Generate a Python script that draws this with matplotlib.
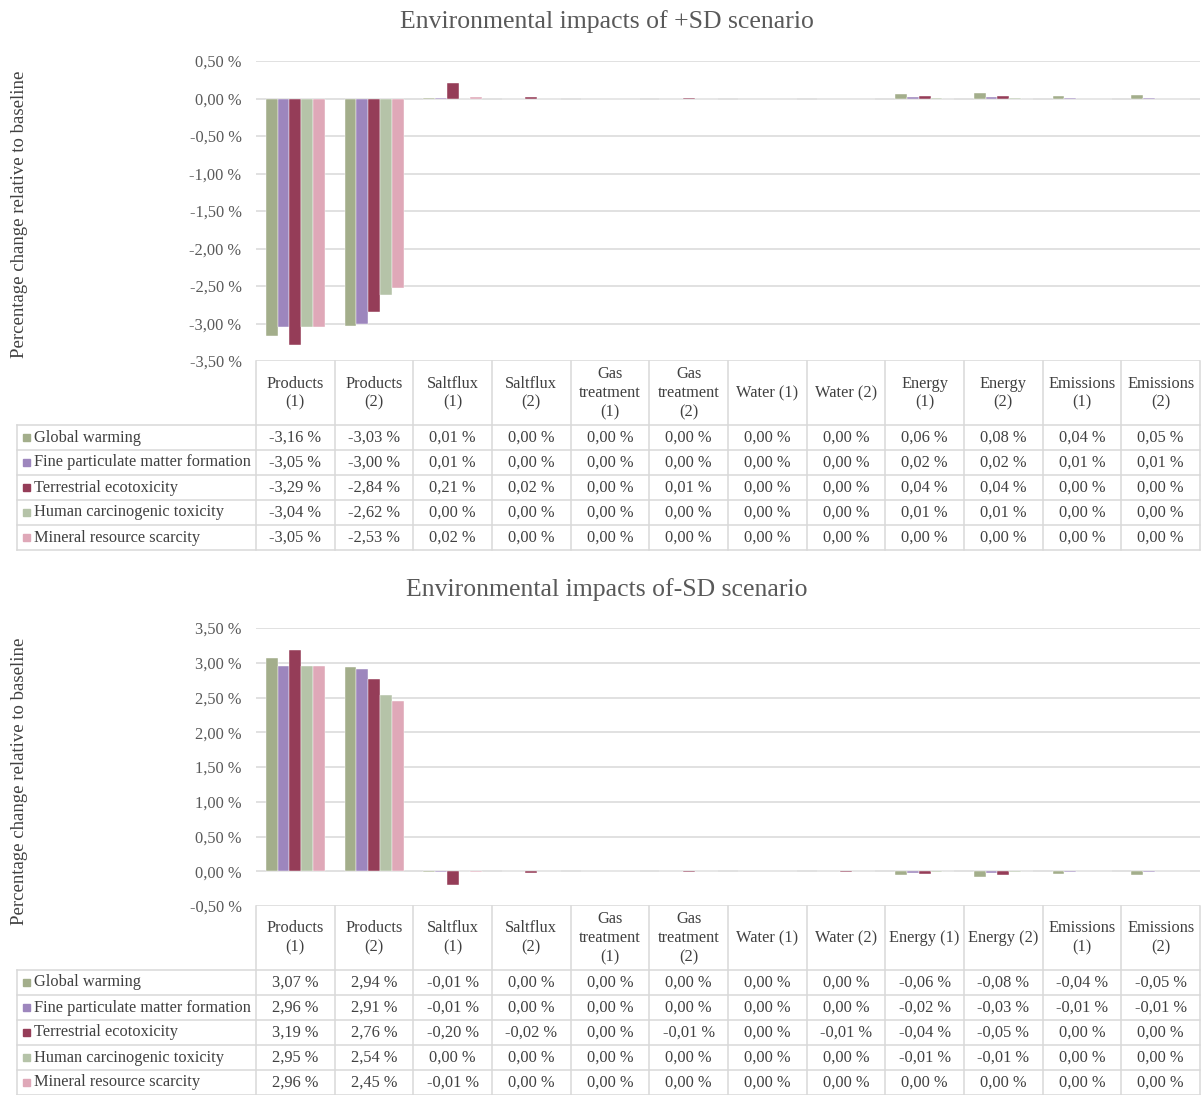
import matplotlib
matplotlib.use("Agg")
import matplotlib.pyplot as plt
import numpy as np

plt.rcParams['font.family'] = ['Liberation Serif', 'DejaVu Serif']

W, H = 1203, 1095

series = ["Global warming", "Fine particulate matter formation", "Terrestrial ecotoxicity",
          "Human carcinogenic toxicity", "Mineral resource scarcity"]
colors = ["#A3AE8B", "#9D86BD", "#953D58", "#B5C3A8", "#DFA8B8"]

cats_plus = ["Products\n(1)", "Products\n(2)", "Saltflux\n(1)", "Saltflux\n(2)", "Gas\ntreatment\n(1)",
             "Gas\ntreatment\n(2)", "Water (1)", "Water (2)", "Energy\n(1)", "Energy\n(2)",
             "Emissions\n(1)", "Emissions\n(2)"]
cats_minus = ["Products\n(1)", "Products\n(2)", "Saltflux\n(1)", "Saltflux\n(2)", "Gas\ntreatment\n(1)",
              "Gas\ntreatment\n(2)", "Water (1)", "Water (2)", "Energy (1)", "Energy (2)",
              "Emissions\n(1)", "Emissions\n(2)"]

# +SD scenario (%)
plus_gw = [-3.16, -3.03, 0.01, 0.00, 0.00, 0.00, 0.00, 0.00, 0.06, 0.08, 0.04, 0.05]
plus_pm = [-3.05, -3.00, 0.01, 0.00, 0.00, 0.00, 0.00, 0.00, 0.02, 0.02, 0.01, 0.01]
plus_te = [-3.29, -2.84, 0.21, 0.02, 0.00, 0.01, 0.00, 0.00, 0.04, 0.04, 0.00, 0.00]
plus_hc = [-3.04, -2.62, 0.00, 0.00, 0.00, 0.00, 0.00, 0.00, 0.01, 0.01, 0.00, 0.00]
plus_mr = [-3.05, -2.53, 0.02, 0.00, 0.00, 0.00, 0.00, 0.00, 0.00, 0.00, 0.00, 0.00]

# -SD scenario (%)
minus_gw = [3.07, 2.94, -0.01, 0.00, 0.00, 0.00, 0.00, 0.00, -0.06, -0.08, -0.04, -0.05]
minus_pm = [2.96, 2.91, -0.01, 0.00, 0.00, 0.00, 0.00, 0.00, -0.02, -0.03, -0.01, -0.01]
minus_te = [3.19, 2.76, -0.20, -0.02, 0.00, -0.01, 0.00, -0.01, -0.04, -0.05, 0.00, 0.00]
minus_hc = [2.95, 2.54, 0.00, 0.00, 0.00, 0.00, 0.00, 0.00, -0.01, -0.01, 0.00, 0.00]
minus_mr = [2.96, 2.45, -0.01, 0.00, 0.00, 0.00, 0.00, 0.00, 0.00, 0.00, 0.00, 0.00]

plus_ticks = [0.5, 0.0, -0.5, -1.0, -1.5, -2.0, -2.5, -3.0, -3.5]
minus_ticks = [3.5, 3.0, 2.5, 2.0, 1.5, 1.0, 0.5, 0.0, -0.5]

GRID = "#D9D9D9"
TXT = "#595959"
TAB_TXT = "#404040"
FS = 11.8


def pct(v):
    return f"{v:.2f}".replace(".", ",") + " %"


fig = plt.figure(figsize=(W / 100, H / 100), dpi=100)

# overlay axes in pixel coordinates for titles / table
ov = fig.add_axes([0, 0, 1, 1])
ov.set_xlim(0, W)
ov.set_ylim(H, 0)
ov.axis("off")


def panel(title, cats, data, ticks, top, bottom, title_y, label_y):
    left, right = 256, 1200
    ax = fig.add_axes([left / W, 1 - bottom / H, (right - left) / W, (bottom - top) / H])
    x = np.arange(len(cats))
    bw = 0.15
    for i, (vals, c) in enumerate(zip(data, colors)):
        ax.bar(x + (i - 2) * bw, vals, bw, color=c, edgecolor="white", linewidth=0.3, zorder=3)
    ax.set_xlim(-0.5, len(cats) - 0.5)
    ax.set_ylim(min(ticks), max(ticks))
    ax.set_yticks(ticks)
    ax.set_yticklabels([pct(t) for t in ticks])
    ax.tick_params(axis="y", length=0, pad=10.5, labelsize=FS, labelcolor=TXT)
    ax.set_xticks([])
    ax.grid(axis="y", color=GRID, linewidth=1.1, zorder=0)
    ax.set_axisbelow(True)
    for s in ax.spines.values():
        s.set_visible(False)
    ax.patch.set_alpha(0)

    ov.text(607, title_y, title, ha="center", va="center", fontsize=18.5, color=TXT)
    ov.text(20, label_y, "Percentage change relative to baseline", rotation=90,
            ha="center", va="center", fontsize=13.5, color=TAB_TXT)

    # data table
    colw = (right - left) / len(cats)
    hdr_bot = bottom + 64
    rowh = 25
    tab_bot = hdr_bot + rowh * len(series)
    lk = dict(color=GRID, linewidth=1.1, zorder=1)
    for j in range(len(cats) + 1):
        xx = left + j * colw
        ov.plot([xx, xx], [bottom, tab_bot], **lk)
    ov.plot([17, 17], [hdr_bot, tab_bot], **lk)
    for r in range(len(series) + 1):
        yy = hdr_bot + r * rowh
        ov.plot([17, right], [yy, yy], **lk)
    for j, c in enumerate(cats):
        ov.text(left + (j + 0.5) * colw, (bottom + hdr_bot) / 2, c, ha="center", va="center",
                fontsize=FS, color=TAB_TXT, linespacing=1.25)
    for r, (name, vals, col) in enumerate(zip(series, data, colors)):
        yc = hdr_bot + (r + 0.5) * rowh
        ov.add_patch(plt.Rectangle((22.5, yc - 4), 7.5, 7.5, color=col, zorder=2))
        ov.text(34, yc, name, ha="left", va="center", fontsize=FS, color=TAB_TXT)
        for j, v in enumerate(vals):
            ov.text(left + (j + 0.5) * colw, yc, pct(v), ha="center", va="center",
                    fontsize=FS, color=TAB_TXT)


panel("Environmental impacts of +SD scenario", cats_plus,
      [plus_gw, plus_pm, plus_te, plus_hc, plus_mr], plus_ticks, 61, 361, 22, 214)
panel("Environmental impacts of-SD scenario", cats_minus,
      [minus_gw, minus_pm, minus_te, minus_hc, minus_mr], minus_ticks, 628, 906, 590, 781)

fig.savefig("out.png", dpi=100)
